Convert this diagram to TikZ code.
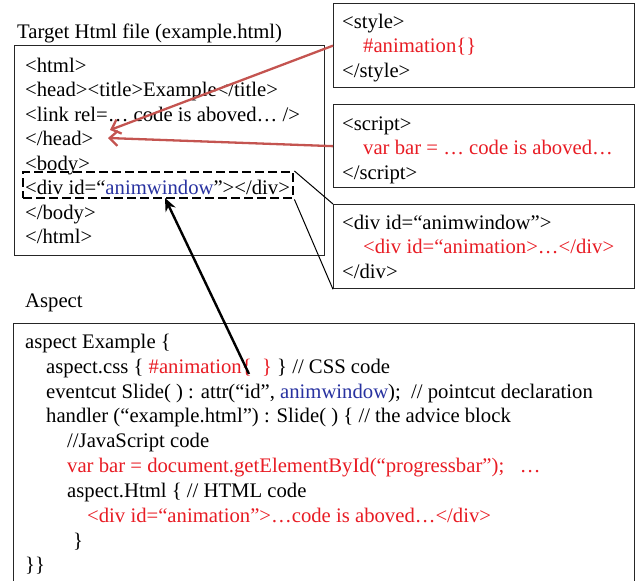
\documentclass[tikz,border=0pt]{standalone}
\usepackage{fontspec}
\setmainfont{Liberation Serif}
\usetikzlibrary{arrows.meta}
\definecolor{codered}{RGB}{232,28,36}
\definecolor{codeblue}{RGB}{40,50,160}
\definecolor{linkred}{RGB}{196,84,80}

\tikzset{
    box/.style={draw=black!85, line width=1.3pt, anchor=north west, inner sep=0pt},
    code/.style={anchor=base west, inner sep=0pt, font=\fontsize{20.7}{24}\selectfont},
    linkarrow/.style={draw=linkred, line width=2.3pt, -{Straight Barb[length=8pt,width=15pt]}},
    pointer/.style={draw=black, line width=2.4pt, -{Stealth[length=13pt,width=11pt]}},
}

\begin{document}
\begin{tikzpicture}[x=1pt, y=-1pt]
        \useasboundingbox (0,0) rectangle (638,581);
        \clip (0,0) rectangle (638,581);

        % Kaesten
        \node[box, minimum width=310pt, minimum height=210pt] (target) at (14,45) {};
        \node[box, minimum width=301pt, minimum height=84pt] (stylebox) at (333,3) {};
        \node[box, minimum width=301pt, minimum height=83pt] (scriptbox) at (333,104) {};
        \node[box, minimum width=301pt, minimum height=84pt] (divbox) at (333,204) {};
        \node[box, minimum width=621pt, minimum height=300pt] (aspect) at (13,323) {}; % unten offen

        % HTML-Datei
        \node[code] (targettitle) at (17,38) {Target Html file (example.html)};
        \node[code] (t1) at (25,72) {<html>};
        \node[code] (t2) at (25,96.5) {<head><title>Example</title>};
        \node[code] (t3) at (25,121) {<link rel=… code is aboved… />};
        \node[code] (t4) at (25,145.5) {</head>};
        \node[code] (t5) at (25,170) {<body>};
        \node[code] (t6) at (25,194.5) {<div id=“\textcolor{codeblue}{animwindow}”></div>};
        \node[code] (t7) at (25,219) {</body>};
        \node[code] (t8) at (25,243.5) {</html>};
        \node[box, dashed, dash pattern=on 9pt off 4pt, line width=2.4pt,
              draw=black, minimum width=270pt, minimum height=26pt] (dash) at (22,171) {};

        % eingefuegter Code
        \node[code] (s1) at (342,28) {<style>};
        \node[code, codered] (s2) at (363,52.5) {\#animation\{\}};
        \node[code] (s3) at (342,77) {</style>};
        \node[code] (j1) at (342,130) {<script>};
        \node[code, codered] (j2) at (363,154.5) {var bar = … code is aboved…};
        \node[code] (j3) at (342,179) {</script>};
        \node[code] (d1) at (342,229) {<div id=“animwindow”>};
        \node[code, codered] (d2) at (363,253.5) {<div id=“animation>…</div>};
        \node[code] (d3) at (342,278) {</div>};

        % Aspekt
        \node[code] (aspecttitle) at (25,307) {Aspect};
        \node[code] (a1) at (25,348) {aspect Example \{};
        \node[code] (a2) at (46,373) {aspect.css \{ \textcolor{codered}{\#animation\{\ \ \}} \} // CSS code};
        \node[code] (a3) at (46,398) {eventcut Slide( ) : attr(“id”, \textcolor{codeblue}{animwindow});\ \ // pointcut declaration};
        \node[code] (a4) at (46,422.5) {handler (“example.html”) : Slide( ) \{ // the advice block};
        \node[code] (a5) at (67,447) {//JavaScript code};
        \node[code, codered] (a6) at (67,472) {var bar = document.getElementById(“progressbar”);\ \ \ …};
        \node[code] (a7) at (67,497) {aspect.Html \{ // HTML code};
        \node[code, codered] (a8) at (87,522) {<div id=“animation”>…code is aboved…</div>};
        \node[code] (a9) at (73,547) {\}};
        \node[code] (a10) at (25,571) {\}\}};

        % Verbindungen
        \coordinate (headtipA) at (110,130);
        \coordinate (headtipB) at (108,138);
        \coordinate (cssbrace) at (249,374);
        \coordinate (divtip) at (165,198);
        \draw[linkarrow] (stylebox.west) -- (headtipA);
        \draw[linkarrow] (scriptbox.west) -- (headtipB);
        \draw[line width=1pt] (dash.north east) -- (divbox.north west);
        \draw[line width=1pt] (dash.south east) -- (divbox.south west);
        \draw[pointer] (cssbrace) -- (divtip);

\end{tikzpicture}
\end{document}
